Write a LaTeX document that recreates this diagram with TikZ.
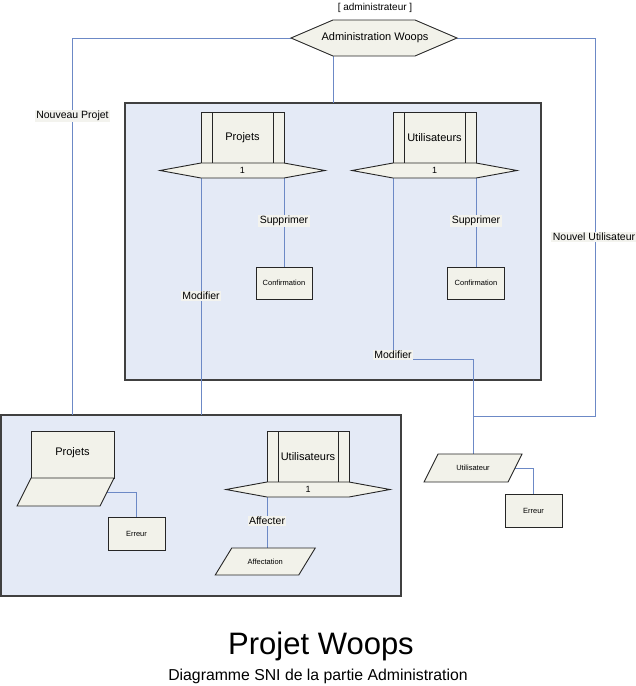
\documentclass[tikz,border=0pt]{standalone}
\usepackage{fontspec}
\setmainfont{Liberation Sans}
\usetikzlibrary{calc}
\definecolor{framefill}{HTML}{E4EAF6}
\definecolor{shapefill}{HTML}{F2F2EA}
\definecolor{linkc}{HTML}{6C89C6}
\definecolor{lblfill}{HTML}{F3F3EE}
\pgfdeclarelayer{back}
\pgfdeclarelayer{mid}
\pgfsetlayers{back,mid,main}
\tikzset{
  txt/.style={inner sep=0, outer sep=0, draw=none, align=center, font=\fontsize{11}{13}\selectfont},
  small/.style={txt, font=\fontsize{7.5}{9}\selectfont},
  one/.style={txt, font=\fontsize{9}{11}\selectfont},
  shp/.style={draw=black!85, fill=shapefill, line width=0.9},
  framebox/.style={draw=black!75, fill=framefill, line width=1.2, inner sep=0, outer sep=0},
  link/.style={draw=linkc, line width=1},
  lbl/.style={fill=lblfill, inner sep=1.5, font=\fontsize{10.5}{12}\selectfont},
}
\newcommand\hexpath[2]{%
  \path[shp] (#1.north west) -- (#1.north east) -- ([xshift=#2]#1.east) -- (#1.south east) -- (#1.south west) -- ([xshift=-#2]#1.west) -- cycle;}
\newcommand\barbox[2]{%
  \path[shp] (#1.north west) rectangle (#1.south east);
  \draw[black!85, line width=0.9] ([xshift=#2]#1.north west) -- ([xshift=#2]#1.south west)
    ([xshift=-#2]#1.north east) -- ([xshift=-#2]#1.south east);}
\newcommand\parapath[2]{%
  \path[shp] ([xshift=#2/2]#1.north west) -- ([xshift=#2/2]#1.north east) -- ([xshift=-#2/2]#1.south east) -- ([xshift=-#2/2]#1.south west) -- cycle;}
\newcommand\plainbox[1]{%
  \path[shp] (#1.north west) rectangle (#1.south east);}
\begin{document}
\begin{tikzpicture}[x=1pt,y=-1pt]
\useasboundingbox (0,0) rectangle (636,686);
% frames
\begin{pgfonlayer}{back}
  \node[framebox, minimum width=416, minimum height=277] (fmid) at (333,241.5) {};
  \node[framebox, minimum width=400, minimum height=181] (fbot) at (201,505.5) {};
\end{pgfonlayer}
% text nodes
\node[txt, font=\fontsize{10}{12}\selectfont] (adminrole) at (375,8) {[ administrateur ]};
\node[txt, minimum width=82, minimum height=36] (admin) at (374,38) {};
\node[txt] (admint) at (375,38) {Administration Woops};
\node[txt, minimum width=83, minimum height=51] (projA) at (242.5,137.5) {Projets};
\node[one, minimum width=83, minimum height=15] (projAh) at (242.5,170.5) {1};
\node[small, minimum width=56, minimum height=32] (confA) at (284,283) {Confirmation};
\node[txt, minimum width=83, minimum height=51] (utilA) at (434.5,137.5) {Utilisateurs};
\node[one, minimum width=83, minimum height=15] (utilAh) at (434.5,170.5) {1};
\node[small, minimum width=57, minimum height=32] (confB) at (476,283) {Confirmation};
\node[txt, minimum width=83, minimum height=47] (projB) at (72.5,454.5) {};
\node[txt] (projBt) at (72.5,453) {Projets};
\node[txt, minimum width=83, minimum height=28] (projBp) at (65.5,492) {};
\node[small, minimum width=57, minimum height=33] (erreurA) at (136.5,533.5) {Erreur};
\node[txt, minimum width=82, minimum height=51] (utilB) at (308,456.5) {Utilisateurs};
\node[one, minimum width=82, minimum height=15] (utilBh) at (308,489.5) {1};
\node[small, minimum width=83.5, minimum height=27] (affect) at (265.25,561.5) {Affectation};
\node[small, minimum width=84, minimum height=28] (utilisateur) at (473,468) {Utilisateur};
\node[small, minimum width=57, minimum height=33] (erreurB) at (533.5,510.5) {Erreur};
\coordinate (rc) at (595,416);
\coordinate (umod) at (393,359);
% connectors and shapes
\begin{pgfonlayer}{mid}
  \draw[link] ([xshift=-42]admin.west) -| (projB |- fbot.north);
  \draw[link] ([xshift=42]admin.east) -| (rc) -- (utilisateur.north |- rc);
  \draw[link] (admin.south west) -- (admin.south west |- fmid.north);
  \draw[link] (projAh.south west) -- (projAh.south west |- fbot.north);
  \draw[link] (projAh.south east) -- (confA.north);
  \draw[link] (utilAh.south west) -- (umod) -| (utilisateur.north);
  \draw[link] (utilAh.south east) -- (confB.north);
  \draw[link] (projBp.east) -| (erreurA.north);
  \draw[link] (utilBh.south west) -- (utilBh.south west |- affect.north);
  \draw[link] (utilisateur.east) -| (erreurB.north);
  \hexpath{admin}{42}
  \barbox{projA}{11}
  \hexpath{projAh}{41}
  \plainbox{confA}
  \barbox{utilA}{11}
  \hexpath{utilAh}{41}
  \plainbox{confB}
  \plainbox{projB}
  \parapath{projBp}{14}
  \plainbox{erreurA}
  \barbox{utilB}{11}
  \hexpath{utilBh}{41}
  \parapath{affect}{16.5}
  \parapath{utilisateur}{14}
  \plainbox{erreurB}
\end{pgfonlayer}
% connector labels
\node[lbl] (lnp) at (72.5,116) {Nouveau Projet};
\node[lbl] (lnu) at (594,237) {Nouvel Utilisateur};
\node[lbl] (lsa) at (284,221) {Supprimer};
\node[lbl] (lsb) at (476,221) {Supprimer};
\node[lbl] (lma) at (201,296) {Modifier};
\node[lbl] (lmb) at (393,355) {Modifier};
\node[lbl] (laf) at (267,521) {Affecter};
% title
\node[txt, font=\fontsize{31}{36}\selectfont] (title) at (321,646) {Projet Woops};
\node[txt, font=\fontsize{15.8}{18}\selectfont] (subtitle) at (318,676) {Diagramme SNI de la partie Administration};
\end{tikzpicture}
\end{document}
